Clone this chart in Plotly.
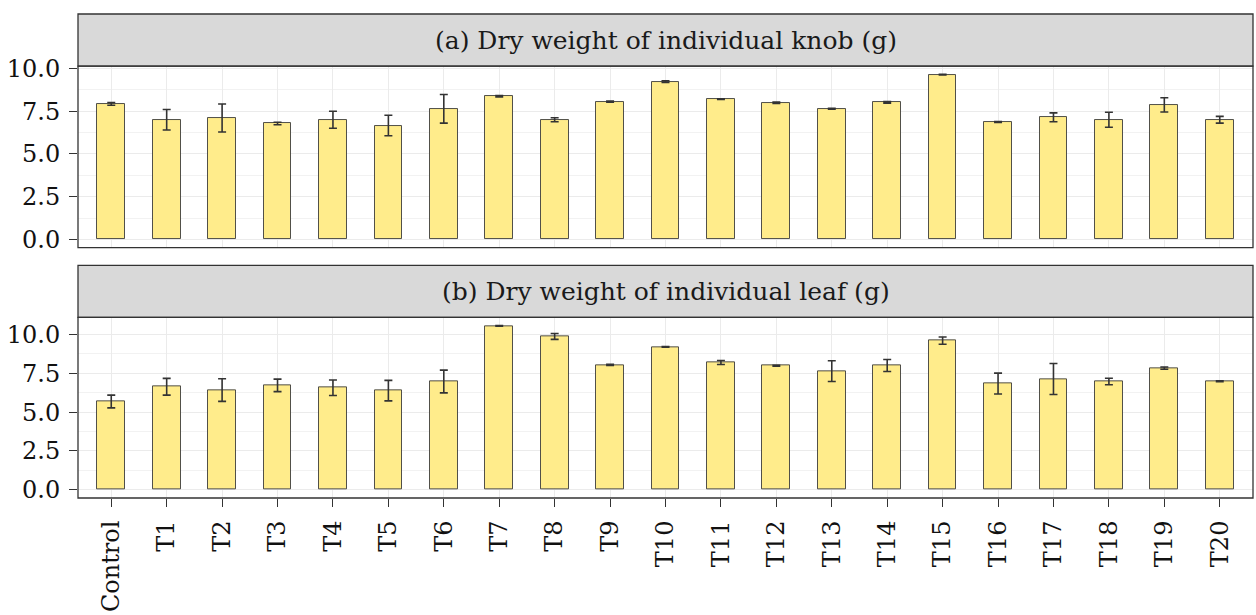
import plotly.graph_objects as go

categories = ["Control"] + [f"T{i}" for i in range(1, 21)]
knob_mean = [7.93, 7.00, 7.10, 6.78, 7.00, 6.66, 7.64, 8.37, 7.00, 8.06, 9.23,
             8.21, 8.00, 7.64, 8.02, 9.64, 6.87, 7.14, 7.00, 7.87, 7.00]
knob_err = [0.08, 0.60, 0.82, 0.07, 0.50, 0.60, 0.84, 0.04, 0.12, 0.04, 0.05,
            0.02, 0.04, 0.03, 0.05, 0.02, 0.03, 0.26, 0.44, 0.42, 0.20]
leaf_mean = [5.68, 6.63, 6.42, 6.72, 6.57, 6.38, 6.97, 10.55, 9.87, 8.04, 9.20,
             8.19, 7.98, 7.64, 8.00, 9.60, 6.84, 7.13, 6.97, 7.83, 6.99]
leaf_err = [0.41, 0.54, 0.73, 0.40, 0.50, 0.66, 0.73, 0.02, 0.19, 0.04, 0.02,
            0.13, 0.03, 0.67, 0.39, 0.23, 0.67, 1.00, 0.21, 0.07, 0.03]
titles = ["(a) Dry weight of individual knob (g)", "(b) Dry weight of individual leaf (g)"]

W, H = 1256, 615
ML, MR, MT, MB = 78, 3, 10, 615 - 503
ph = H - MT - MB

def fy(px):
    return (H - MB - px) / ph

top_dom = [fy(248), fy(63)]
bot_dom = [0, fy(319)]
strips = [(fy(63), 1.0), (fy(319), fy(266))]

FONT = "DejaVu Serif"
fig = go.Figure()
series = [(knob_mean, knob_err, "x", "y"), (leaf_mean, leaf_err, "x2", "y2")]
for m, e, xa, ya in series:
    fig.add_trace(go.Bar(
        x=categories, y=m, xaxis=xa, yaxis=ya, width=0.5,
        marker=dict(color="#FFEC8B", line=dict(color="rgba(50,50,50,0.85)", width=1)),
        error_y=dict(type="data", array=e, visible=True, color="#333333",
                     thickness=1.6, width=4),
        showlegend=False, hoverinfo="skip"))

def yrange(m, e):
    top = max(a + b for a, b in zip(m, e))
    return [-0.05 * top, 1.05 * top]

yax = dict(tickvals=[0, 2.5, 5, 7.5, 10], ticktext=["0.0", "2.5", "5.0", "7.5", "10.0"],
           showgrid=True, gridcolor="#EBEBEB", gridwidth=1.1, zeroline=False,
           ticks="outside", ticklen=8, tickcolor="#333333", tickwidth=1.1,
           ticklabelstandoff=4,
           tickfont=dict(family=FONT, size=24, color="#111111"),
           minor=dict(tickvals=[1.25, 3.75, 6.25, 8.75], showgrid=True,
                      gridcolor="#F2F2F2", gridwidth=0.6),
           showline=False)
xax = dict(range=[-0.6, 20.6], showgrid=True, gridcolor="#EBEBEB", gridwidth=1.1,
           zeroline=False, showline=False, type="category")

fig.update_layout(
    width=W, height=H, margin=dict(l=ML, r=MR, t=MT, b=MB),
    plot_bgcolor="white", paper_bgcolor="white", bargap=0,
    xaxis=dict(**xax, anchor="y", showticklabels=False, ticks="", matches="x2"),
    yaxis=dict(**yax, domain=top_dom, anchor="x", range=yrange(knob_mean, knob_err)),
    xaxis2=dict(**xax, anchor="y2", ticks="outside", ticklen=8, tickcolor="#333333",
                tickwidth=1.1, tickangle=-90, ticklabelstandoff=4,
                tickfont=dict(family=FONT, size=24, color="#111111")),
    yaxis2=dict(**yax, domain=bot_dom, anchor="x2", range=yrange(leaf_mean, leaf_err)),
)

shapes = []
for (y0, y1), dom, t in zip(strips, [top_dom, bot_dom], titles):
    shapes.append(dict(type="rect", xref="paper", yref="paper", x0=0, x1=1, y0=y0, y1=y1,
                       fillcolor="#D9D9D9", line=dict(color="#333333", width=1.3), layer="above"))
    shapes.append(dict(type="rect", xref="paper", yref="paper", x0=0, x1=1,
                       y0=dom[0], y1=dom[1], fillcolor="rgba(0,0,0,0)",
                       line=dict(color="#333333", width=1.3), layer="above"))
    fig.add_annotation(text=t, xref="paper", yref="paper", x=0.5, y=(y0 + y1) / 2,
                       showarrow=False, xanchor="center", yanchor="middle",
                       font=dict(family=FONT, size=25, color="#1A1A1A"))
fig.update_layout(shapes=shapes)

fig.write_html("out.html", config={"displayModeBar": False},
               post_script="document.body.style.margin='0';document.body.style.overflow='hidden';")
